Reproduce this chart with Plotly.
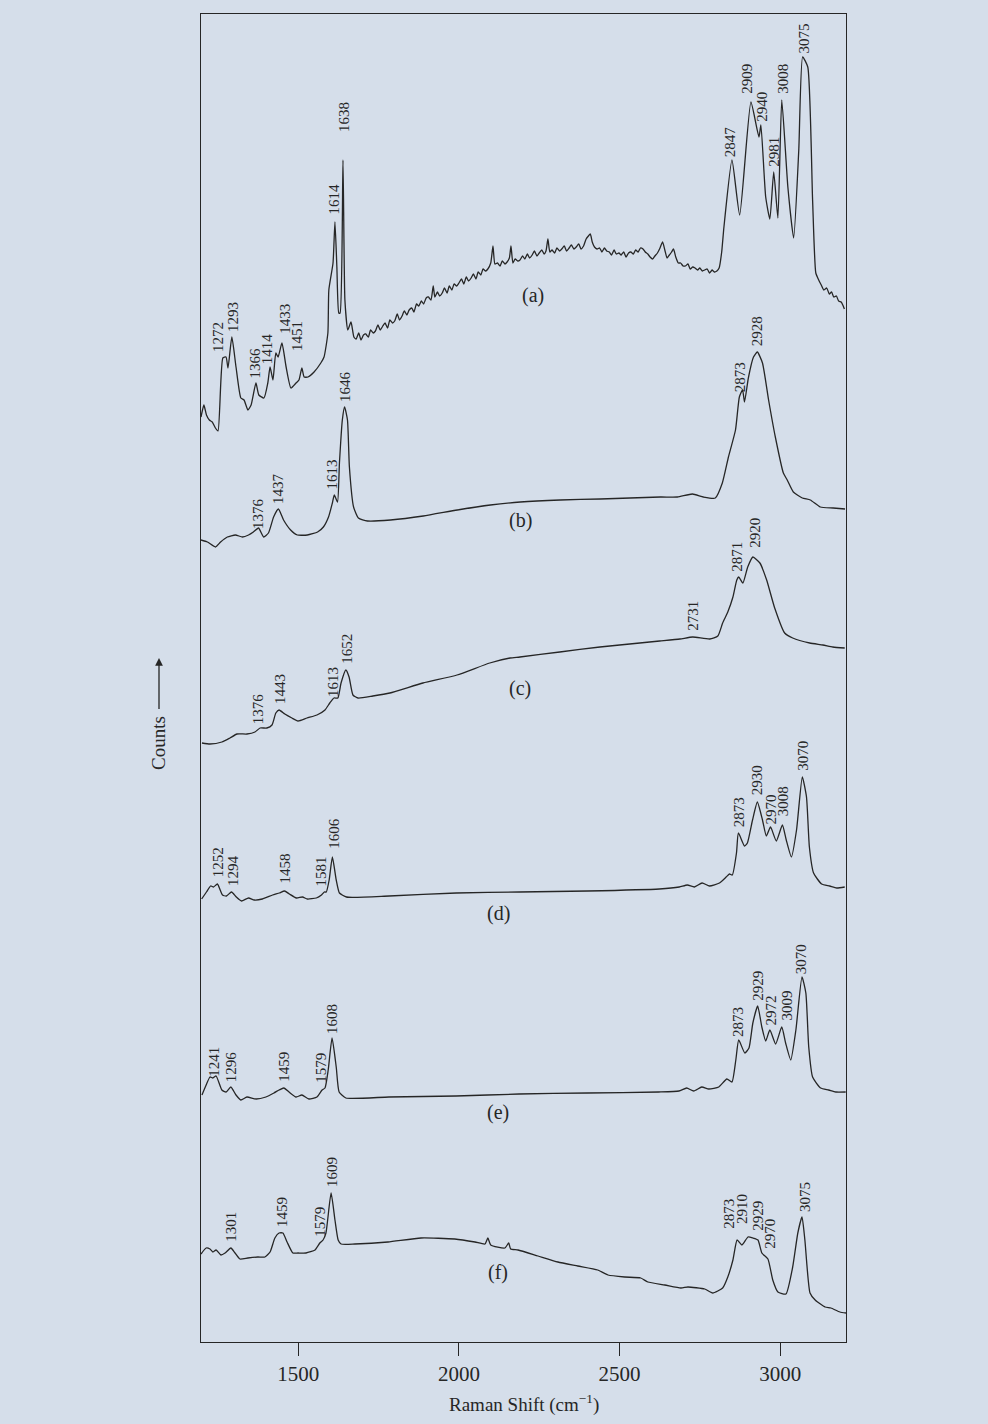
import plotly.graph_objects as go

# ---------------- data (Raman shift in cm-1, counts in arbitrary stacked units) ----------------
A_SHIFT = [1197, 1206, 1214, 1223, 1232, 1242, 1250, 1265, 1275, 1281, 1293, 1306, 1321, 1331, 1343, 1353,
           1368, 1377, 1393, 1405, 1412, 1421, 1430, 1437, 1449, 1462, 1477, 1493, 1502, 1511, 1518, 1530,
           1549, 1570, 1580, 1592, 1595, 1608, 1614, 1620, 1626, 1630, 1639, 1645, 1654, 1664, 1673,
           1680, 1688, 1695, 1703, 1710, 1718, 1725, 1733, 1740, 1748, 1755, 1763, 1770, 1778, 1785, 1793,
           1800, 1808, 1815, 1823, 1830, 1838, 1845, 1853, 1860, 1868, 1875, 1883, 1890, 1898, 1905, 1913,
           1920, 1925, 1933, 1940, 1948, 1955, 1963, 1970, 1978, 1985, 1993, 2000, 2008, 2015, 2023, 2030,
           2038, 2045, 2053, 2060, 2068, 2075, 2083, 2090, 2099, 2106, 2112, 2120, 2128, 2135, 2143, 2150,
           2157, 2162, 2168, 2175, 2183, 2190, 2198, 2205, 2213, 2220, 2228, 2235, 2243, 2250, 2258, 2265,
           2271, 2277, 2283, 2290, 2298, 2305, 2313, 2320, 2328, 2335, 2343, 2350, 2358, 2365, 2373, 2380,
           2388, 2396, 2403, 2409, 2415, 2422, 2430, 2438, 2445, 2453, 2460, 2468, 2475, 2483, 2490, 2498,
           2505, 2513, 2520, 2528, 2535, 2543, 2550, 2558, 2565, 2573, 2580, 2588, 2595, 2603, 2610, 2618,
           2626, 2634, 2641, 2648, 2655, 2662, 2668, 2675, 2683, 2690, 2698, 2705, 2713, 2720, 2728, 2735,
           2743, 2750, 2758, 2765, 2773, 2780, 2788, 2795, 2803, 2810, 2818, 2825, 2850, 2874, 2909, 2934,
           2940, 2955, 2968, 2980, 2993, 3005, 3024, 3042, 3058, 3070, 3086, 3101, 3111, 3120, 3128, 3136,
           3145, 3153, 3160, 3167, 3175, 3182, 3190, 3195, 3200]
A_COUNTS = [925, 937, 927, 922, 920, 914, 911, 984, 985, 974, 1005, 975, 944, 942, 932, 937,
            959, 947, 944, 959, 975, 962, 989, 985, 999, 975, 954, 959, 962, 974, 965, 965,
            970, 979, 985, 1009, 1052, 1079, 1120, 1075, 1029, 1029, 1182, 1042, 1012, 1020, 1005,
            1003, 1009, 1002, 1007, 1008, 1005, 1012, 1009, 1011, 1017, 1012, 1016, 1019, 1014, 1022, 1019,
            1021, 1028, 1022, 1026, 1031, 1027, 1032, 1034, 1030, 1038, 1036, 1041, 1038, 1044, 1045, 1042,
            1056, 1045, 1050, 1046, 1049, 1054, 1049, 1056, 1052, 1058, 1056, 1059, 1063, 1058, 1065, 1061,
            1064, 1068, 1063, 1070, 1067, 1073, 1071, 1073, 1079, 1096, 1078, 1079, 1076, 1081, 1078, 1080,
            1084, 1096, 1079, 1083, 1081, 1082, 1086, 1083, 1088, 1084, 1087, 1091, 1086, 1089, 1092, 1088,
            1091, 1103, 1090, 1092, 1089, 1094, 1091, 1093, 1096, 1091, 1094, 1097, 1093, 1095, 1098, 1093,
            1096, 1103, 1106, 1108, 1100, 1095, 1093, 1094, 1090, 1094, 1091, 1090, 1087, 1092, 1088, 1089,
            1087, 1090, 1085, 1089, 1090, 1088, 1092, 1090, 1094, 1093, 1090, 1088, 1085, 1083, 1086, 1089,
            1094, 1100, 1092, 1084, 1087, 1090, 1093, 1085, 1079, 1079, 1076, 1076, 1078, 1073, 1075, 1074,
            1072, 1074, 1071, 1072, 1073, 1069, 1072, 1070, 1071, 1074, 1090, 1115, 1182, 1127, 1240, 1205,
            1217, 1145, 1123, 1170, 1124, 1242, 1155, 1104, 1192, 1285, 1275, 1142, 1069, 1062, 1057, 1052,
            1054, 1048, 1050, 1045, 1046, 1041, 1040, 1037, 1033]

B_SHIFT = [1197, 1217, 1242, 1258, 1279, 1304, 1326, 1345, 1360, 1376, 1392, 1407, 1423, 1438, 1454, 1476,
           1497, 1528, 1560, 1578, 1594, 1606, 1612, 1622, 1628, 1637, 1644, 1653, 1659, 1672, 1687, 1715,
           1787, 1889, 1995, 2098, 2191, 2315, 2440, 2627, 2680, 2727, 2761, 2798, 2820, 2839, 2861, 2873,
           2883, 2889, 2901, 2917, 2929, 2945, 2964, 2985, 3010, 3022, 3041, 3069, 3094, 3125, 3165, 3202]
B_COUNTS = [802, 800, 795, 800, 805, 807, 805, 807, 810, 814, 805, 809, 825, 833, 822, 812,
            807, 807, 810, 815, 825, 839, 847, 840, 879, 922, 935, 922, 875, 835, 824, 821,
            822, 826, 832, 837, 840, 842, 843, 845, 845, 848, 845, 844, 859, 885, 912, 945,
            952, 940, 964, 985, 990, 979, 942, 905, 869, 862, 850, 844, 842, 835, 834, 833]

C_SHIFT = [1200, 1225, 1262, 1287, 1309, 1340, 1365, 1381, 1402, 1418, 1430, 1440, 1458, 1480, 1499, 1527,
           1558, 1583, 1598, 1611, 1623, 1633, 1648, 1658, 1670, 1686, 1732, 1785, 1888, 1994, 2096, 2159,
           2190, 2314, 2439, 2563, 2625, 2688, 2728, 2781, 2806, 2821, 2837, 2853, 2865, 2871, 2884, 2899,
           2915, 2937, 2958, 2983, 3014, 3039, 3092, 3133, 3164, 3201]
C_COUNTS = [599, 598, 600, 604, 608, 608, 610, 614, 614, 617, 629, 632, 628, 624, 621, 624,
            627, 632, 639, 644, 644, 659, 672, 665, 647, 644, 646, 649, 659, 667, 679, 684,
            685, 690, 695, 699, 701, 703, 705, 703, 706, 719, 730, 745, 762, 765, 759, 775,
            785, 779, 762, 734, 709, 704, 699, 697, 695, 694]

D_SHIFT = [1199, 1214, 1227, 1236, 1248, 1264, 1276, 1292, 1307, 1323, 1345, 1363, 1388, 1420, 1441, 1457,
           1472, 1494, 1513, 1528, 1556, 1572, 1581, 1587, 1596, 1606, 1618, 1628, 1650, 1783, 1992, 2188,
           2400, 2624, 2686, 2711, 2733, 2757, 2780, 2811, 2832, 2842, 2851, 2864, 2870, 2889, 2898, 2914,
           2929, 2945, 2957, 2970, 2988, 3007, 3019, 3035, 3051, 3069, 3082, 3091, 3104, 3129, 3154, 3176,
           3201]
D_COUNTS = [443, 450, 456, 455, 458, 447, 446, 450, 445, 441, 444, 442, 443, 447, 449, 451,
            448, 444, 445, 443, 444, 447, 450, 450, 462, 485, 462, 449, 445, 446, 449, 450,
            451, 453, 455, 457, 455, 459, 456, 459, 465, 468, 467, 489, 509, 496, 499, 522,
            540, 522, 506, 515, 501, 517, 502, 485, 512, 565, 545, 495, 469, 458, 456, 454,
            455]

E_SHIFT = [1200, 1213, 1225, 1234, 1244, 1262, 1275, 1290, 1306, 1321, 1340, 1368, 1399, 1424, 1440, 1455,
           1471, 1493, 1511, 1533, 1558, 1574, 1583, 1593, 1605, 1618, 1627, 1648, 1782, 1991, 2187, 2400,
           2622, 2685, 2709, 2731, 2756, 2778, 2809, 2834, 2850, 2862, 2871, 2890, 2903, 2915, 2930, 2943,
           2955, 2968, 2986, 3005, 3017, 3033, 3049, 3068, 3080, 3089, 3101, 3126, 3151, 3173, 3204]
E_COUNTS = [247, 257, 265, 264, 266, 252, 250, 255, 247, 242, 245, 243, 245, 249, 252, 254,
            250, 245, 247, 243, 245, 252, 254, 272, 304, 275, 250, 244, 245, 246, 248, 249,
            250, 251, 254, 251, 255, 253, 255, 263, 260, 282, 302, 289, 294, 319, 336, 315,
            301, 312, 298, 315, 299, 282, 312, 365, 349, 295, 265, 254, 252, 250, 250]

F_SHIFT = [1197, 1213, 1225, 1234, 1244, 1259, 1272, 1290, 1303, 1318, 1343, 1374, 1396, 1412, 1427, 1440,
           1452, 1465, 1483, 1499, 1524, 1552, 1567, 1577, 1586, 1602, 1614, 1624, 1633, 1676, 1779, 1882,
           1987, 2050, 2081, 2090, 2099, 2143, 2155, 2161, 2184, 2246, 2308, 2370, 2432, 2464, 2516, 2566,
           2588, 2641, 2691, 2713, 2765, 2790, 2821, 2837, 2853, 2866, 2881, 2900, 2915, 2931, 2943, 2962,
           2977, 2993, 3018, 3039, 3055, 3068, 3077, 3093, 3109, 3140, 3158, 3186, 3205]
F_COUNTS = [88, 94, 93, 90, 92, 87, 89, 94, 89, 83, 84, 85, 85, 90, 104, 109,
            109, 100, 89, 89, 89, 92, 99, 102, 109, 149, 122, 102, 98, 98, 100, 104,
            103, 100, 98, 104, 97, 94, 99, 93, 92, 86, 80, 76, 72, 67, 65, 64,
            60, 57, 54, 55, 53, 49, 54, 65, 82, 102, 97, 105, 104, 102, 89, 83,
            62, 50, 48, 75, 109, 125, 102, 49, 42, 35, 34, 30, 29]

# peak labels (text values) and where they are written
A_PEAKS = [1272, 1293, 1366, 1414, 1433, 1451, 1614, 1638, 2847, 2909, 2940, 2981, 3008, 3075]
B_PEAKS = [1376, 1437, 1613, 1646, 2873, 2928]
C_PEAKS = [1376, 1443, 1613, 1652, 2731, 2871, 2920]
D_PEAKS = [1252, 1294, 1458, 1581, 1606, 2873, 2930, 2970, 3008, 3070]
E_PEAKS = [1241, 1296, 1459, 1579, 1608, 2873, 2929, 2972, 3009, 3070]
F_PEAKS = [1301, 1459, 1579, 1609, 2873, 2910, 2929, 2970, 3075]

A_LAB_X = [1250, 1297, 1362, 1402, 1458, 1496, 1608, 1642, 2843, 2896, 2943, 2980, 3008, 3073]
A_LAB_Y = [989, 1009, 962, 977, 1007, 990, 1126, 1209, 1184, 1247, 1219, 1174, 1247, 1287]
B_LAB_X = [1373, 1435, 1606, 1644, 2876, 2929]
B_LAB_Y = [812, 837, 852, 939, 949, 995]
C_LAB_X = [1374, 1443, 1608, 1651, 2728, 2865, 2921]
C_LAB_Y = [617, 637, 644, 677, 710, 769, 793]
D_LAB_X = [1251, 1295, 1457, 1572, 1609, 2873, 2929, 2973, 3010, 3070]
D_LAB_Y = [464, 455, 457, 455, 492, 514, 546, 517, 525, 570]
E_LAB_X = [1237, 1290, 1455, 1570, 1605, 2869, 2930, 2973, 3020, 3066]
E_LAB_Y = [264, 259, 259, 258, 307, 304, 340, 316, 320, 367]
F_LAB_X = [1290, 1449, 1567, 1605, 2840, 2881, 2930, 2968, 3077]
F_LAB_Y = [99, 114, 104, 154, 112, 117, 110, 92, 129]

PANEL_NAMES = ["(a)", "(b)", "(c)", "(d)", "(e)", "(f)"]
PANEL_X = [2230, 2193, 2190, 2122, 2122, 2123]
PANEL_Y = [1047, 822, 654, 429, 230, 70]

X_TICKS = [1500, 2000, 2500, 3000]
X_TITLE = "Raman Shift (cm<sup>−1</sup>)"
Y_TITLE = "Counts"

# ---------------- figure ----------------
BG = "#d5deea"
INK = "#262626"
FONT = "Liberation Serif, DejaVu Serif, serif"

fig = go.Figure()
spectra = [(A_SHIFT, A_COUNTS), (B_SHIFT, B_COUNTS), (C_SHIFT, C_COUNTS),
           (D_SHIFT, D_COUNTS), (E_SHIFT, E_COUNTS), (F_SHIFT, F_COUNTS)]
for k, (xs, ys) in enumerate(spectra):
    fig.add_trace(go.Scatter(
        x=xs, y=ys, mode="lines", name=PANEL_NAMES[k],
        line=dict(color=INK, width=1.3, shape="spline", smoothing=0.5),
        hoverinfo="skip", showlegend=False))

annotations = []
labels = [(A_PEAKS, A_LAB_X, A_LAB_Y), (B_PEAKS, B_LAB_X, B_LAB_Y), (C_PEAKS, C_LAB_X, C_LAB_Y),
          (D_PEAKS, D_LAB_X, D_LAB_Y), (E_PEAKS, E_LAB_X, E_LAB_Y), (F_PEAKS, F_LAB_X, F_LAB_Y)]
for peaks, lx, ly in labels:
    for p, x, y in zip(peaks, lx, ly):
        annotations.append(dict(
            x=x, y=y, xref="x", yref="y", text=str(p), showarrow=False,
            textangle=-90, xanchor="center", yanchor="bottom", borderpad=0,
            font=dict(family=FONT, size=15, color=INK)))

for name, x, y in zip(PANEL_NAMES, PANEL_X, PANEL_Y):
    annotations.append(dict(
        x=x, y=y, xref="x", yref="y", text=name, showarrow=False,
        xanchor="center", yanchor="middle",
        font=dict(family=FONT, size=20, color=INK)))

annotations.append(dict(
    x=0.5, y=-(1403 - 1342) / 1328, xref="paper", yref="paper", text=X_TITLE,
    showarrow=False, xanchor="center", yanchor="middle",
    font=dict(family=FONT, size=19, color=INK)))
# "Counts" written upward, followed by an upward arrow
annotations.append(dict(
    x=(158 - 201) / 645, y=(1342 - 743) / 1328, xref="paper", yref="paper", text=Y_TITLE,
    showarrow=False, xanchor="center", yanchor="middle", textangle=-90,
    font=dict(family=FONT, size=19, color=INK)))
annotations.append(dict(
    x=(159 - 201) / 645, y=(1342 - 658) / 1328, xref="paper", yref="paper", text=" ",
    showarrow=True, ax=0, ay=53, arrowhead=2, arrowsize=1.2, arrowwidth=1.3,
    arrowcolor=INK, standoff=0, startstandoff=0, font=dict(size=1)))

fig.update_layout(
    width=988, height=1424,
    margin=dict(l=201, r=142, t=14, b=82),
    paper_bgcolor=BG, plot_bgcolor=BG,
    annotations=annotations,
    xaxis=dict(range=[1197, 3205], tickvals=X_TICKS, ticks="outside", ticklen=13, tickwidth=1.3,
               tickcolor=INK, showline=True, mirror=True, linecolor=INK, linewidth=1.3,
               showgrid=False, zeroline=False,
               tickfont=dict(family=FONT, size=21, color=INK)),
    yaxis=dict(range=[0, 1328], showticklabels=False, ticks="", showline=True, mirror=True,
               linecolor=INK, linewidth=1.3, showgrid=False, zeroline=False),
)

fig.write_html(
    "out.html",
    config={"displayModeBar": False},
    post_script="document.body.style.margin='0';document.body.style.background='" + BG + "';",
)
